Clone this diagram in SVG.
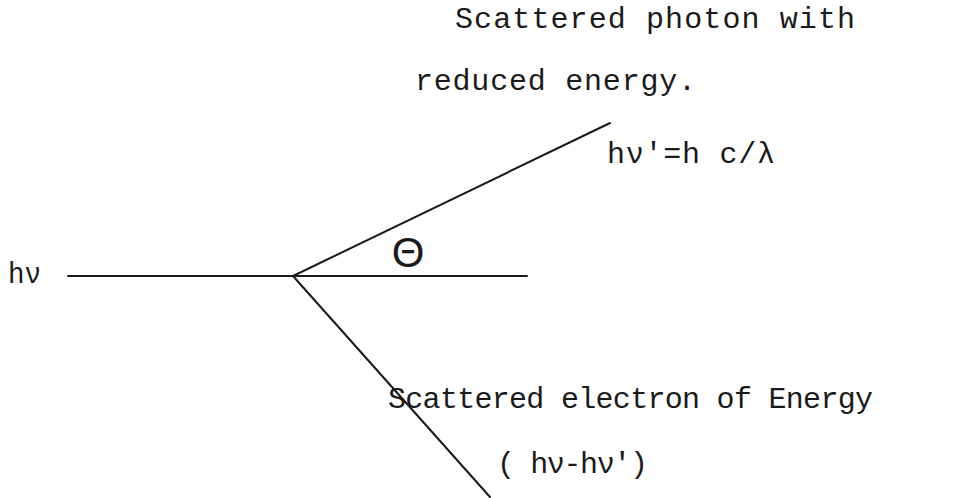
<svg xmlns="http://www.w3.org/2000/svg" width="959" height="498" viewBox="0 0 959 498">
<style>
.t{font-family:"Liberation Mono","DejaVu Sans Mono",monospace;font-size:30px;fill:#1a1a1a}
.ln{stroke:#1a1a1a;stroke-width:2;fill:none;stroke-linecap:round}
</style>
<rect width="959" height="498" fill="#ffffff"/>
<g id="connectors">
<line class="ln" x1="68" y1="276" x2="527" y2="276"/>
<line class="ln" x1="293" y1="276" x2="610" y2="123"/>
<line class="ln" x1="293" y1="276" x2="490" y2="497"/>
</g>
<g id="incident-label"><text class="t" x="8" y="283" textLength="33" lengthAdjust="spacingAndGlyphs">hν</text></g>
<g id="photon-label">
<text class="t" x="455" y="28" textLength="400" lengthAdjust="spacing">Scattered photon with</text>
<text class="t" x="415" y="90" textLength="281" lengthAdjust="spacing">reduced energy.</text>
<text class="t" x="607" y="163" textLength="168" lengthAdjust="spacing">hν'=h c/λ</text>
</g>
<g id="angle-label"><text x="408" y="267" text-anchor="middle" font-family="Liberation Sans,Arial,sans-serif" font-size="42" fill="#1a1a1a">Θ</text></g>
<g id="electron-label">
<text class="t" x="388" y="408" textLength="485" lengthAdjust="spacing">Scattered electron of Energy</text>
<text class="t" x="497" y="473" textLength="151" lengthAdjust="spacing">( hν-hν')</text>
</g>
</svg>
